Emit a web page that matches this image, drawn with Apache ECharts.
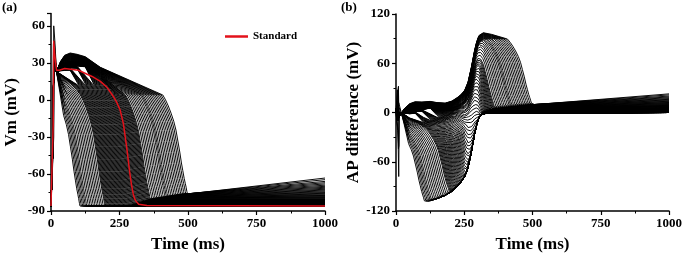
<!DOCTYPE html>
<html>
<head>
<meta charset="utf-8">
<script src="https://cdn.jsdelivr.net/npm/echarts@6/dist/echarts.min.js"></script>
<style>
  html, body { margin: 0; padding: 0; background: #fff; }
  #chart { width: 685px; height: 258px; }
</style>
</head>
<body>
<div id="chart"></div>
<script>
// red "Standard" action potential, panel (a)
const stdT = [0, 5, 8, 10, 14, 20, 30, 50, 100, 150, 180, 205, 227, 240, 252, 264, 276, 282, 288, 294, 300, 305, 310, 320, 350, 1000]
const stdV = [-86, -85, -20, 48, 36, 24, 24, 25.5, 24, 19, 15, 10, 3, -2, -8, -19, -38, -49, -60, -69, -76, -80, -82, -84.5, -85.5, -86]

// black traces: time each one is back at rest (ms), read along the bottom of panel (a)
const endT = [
  106, 111, 116, 121, 126, 131, 137, 143, 149, 155, 161, 167, 173, 179, 185, 191, 197,
  200, 203, 206, 209, 212, 215, 218,
  221, 224, 227, 230, 233, 236, 239, 242, 245, 248, 251, 254, 257, 260, 263, 266, 269, 272, 275, 278,
  281, 284, 287, 290, 293, 296, 299, 302, 305, 308, 311, 314, 317, 320, 323, 326, 329, 332, 335, 338, 341, 344, 347, 350, 353, 356, 359, 362,
  368, 374, 380, 386, 392, 398, 404, 410, 416, 421, 426, 432, 438, 444, 450, 456, 462, 468, 474, 480, 486, 492, 498
]
// dome height near 70 ms (null = no dome)
const domeV = [
  null, null, null, null, null, null, null, null, null, null, null, null, null, null, null, null, null,
  null, null, null, null, null, null, null,
  24, 24.2, 24.4, 24.6, 24.8, 25, 25.2, 25.4, 25.6, 25.8, 26, 26.2, 26.4, 26.6, 26.8, 27, 27.2, 27.4, 27.6, 27.8,
  28, 28.1, 28.2, 28.3, 28.4, 28.5, 28.6, 28.7, 28.8, 28.9, 29, 29.1, 29.2, 29.3, 29.4, 29.5, 29.6, 29.7, 29.8, 29.9, 30, 30.1, 30.2, 30.4, 30.5, 30.7, 30.8, 31,
  31.3, 31.6, 31.9, 32.2, 32.5, 32.8, 33.1, 33.4, 33.7, 34, 34.3, 34.6, 34.9, 35.2, 35.5, 35.8, 36.1, 36.4, 36.7, 37, 37.3, 37.6, 38
]
// plateau level at 180 ms for the long traces (null = already repolarising)
const plateauV = [
  null, null, null, null, null, null, null, null, null, null, null, null, null, null, null, null, null,
  null, null, null, null, null, null, null,
  null, null, null, null, null, null, null, null, null, null, null, null, null, null, null, null, null, null, null, null,
  null, null, null, null, null, null, null, null, null, null, null, null, null, null, null, null, null, 18, 18.3, 18.6, 18.9, 19.2, 19.5, 19.8, 20.1, 20.4, 20.7, 21,
  21.3, 21.5, 21.8, 22, 22.3, 22.5, 22.8, 23, 23.3, 23.5, 23.8, 24, 24.3, 24.5, 24.8, 25, 25.2, 25.4, 25.6, 25.8, 26, 26.2, 26.4
]
// lowest Vm after repolarisation
const bottomV = [
  -86, -86, -86, -86, -86, -86, -86, -86, -86, -86, -86, -86, -86, -86, -86, -86, -86,
  -86, -86, -86, -86, -86, -86, -86,
  -86, -86, -86, -86, -86, -86, -86, -86, -86, -86, -86, -86, -86, -86, -86, -86, -86, -86, -86, -86,
  -85.8, -85.6, -85.4, -85.2, -85, -84.8, -84.6, -84.4, -84.2, -84, -83.8, -83.5, -83.3, -83.1, -82.9, -82.7, -82.5, -82.3, -82.1, -81.9, -81.7, -81.5, -81.2, -81, -80.8, -80.6, -80.3, -80,
  -79.8, -79.6, -79.4, -79.2, -79, -78.8, -78.6, -78.4, -78.2, -78, -77.8, -77.6, -77.4, -77.2, -77, -76.8, -76.6, -76.4, -76.3, -76.2, -76.1, -76, -76
]
// Vm at 1000 ms
const endV = [
  -86, -86, -86, -86, -86, -86, -86, -86, -86, -86, -86, -86, -86, -86, -86, -86, -86,
  -86, -86, -86, -86, -86, -86, -86,
  -86, -86, -86, -86, -86, -86, -86, -86, -86, -86, -86, -86, -86, -86, -86, -86, -86, -86, -86, -86,
  -85.9, -85.7, -85.5, -85.3, -85.1, -84.9, -84.7, -84.5, -84.3, -84.1, -83.9, -83.7, -83.5, -83.3, -83.1, -82.9, -82.7, -82.5, -82.3, -82.1, -81.9, -81.6, -81.4, -81.2, -81, -80.7, -80.4, -80.1,
  -79.6, -79.2, -78.8, -78.4, -77.9, -77.4, -76.9, -76.3, -75.7, -75.1, -74.5, -73.8, -73.1, -72.4, -71.6, -70.8, -70, -69.1, -68.1, -67.1, -66, -64.6, -63.3
]
// upstroke peak and its small time shift (ms)
const upPeak = [
  46, 45, 47, 44, 46, 48, 45, 44, 47, 46, 45, 43, 46, 44, 45, 47, 44,
  45, 46, 44, 47, 45, 43, 46,
  60, 45, 44, 46, 47, 45, 44, 43, 46, 45, 47, 44, 46, 45, 43, 46, 44, 47, 45, 44,
  46, 45, 43, 47, 44, 46, 45, 44, 46, 45, 43, 44, 46, 45, 44, 46, 43, 45, 47, 44, 45, 43, 46, 44, 45, 42, 44, 46,
  43, 45, 44, 42, 45, 43, 44, 42, 45, 44, 46, 43, 45, 47, 44, 45, 43, 46, 44, 45, 42, 44, 43
]
const upDelay = [
  0, 0, 0, 0, 0, 2, 0, 0, 0, 0, 0, 0, 1, 0, 0, 0, 0,
  0, 0, 0, 0, 0, 0, 0,
  0, 0, 0, -1, 0, 0, 0, 0, 0, 0, 0, 0, 0, 0, 0, 0, 1, 0, 0, 0,
  0, 0, 0, 0, 0, 0, 0, 0, 0, 0, 0, 0, 0, -1, 0, 0, 0, 0, 0, 0, 0, 0, 0, 0, 0, 0, 0, 0,
  0, 0, 0, 0, 0, 0, 0, 0, 0, 0, 0, 0, 0, 0, 0, 0, 0, 0, 0, 0, 0, 0, 0
]
// dome profile: time (ms) and share of the dome rise above the 23 mV notch
const domeT = [35, 50, 70, 95, 125]
const domeFrac = [0.55, 0.88, 1, 0.93, 0.8]
// repolarisation shape: ms before rest, Vm
const shapeDt = [-120, -105, -90, -80, -70, -60, -50, -42, -35, -28, -22, -17, -12, -8, -5, -2]
const shapeV = [12, 8.5, 4, -0.5, -6, -12.5, -20, -28, -38, -48, -58, -65, -72, -76.5, -80, -84]

const stdPts = stdT.map((t, i) => [t, stdV[i]])

function buildTrace(i) {
  const T = endT[i], d = upDelay[i], p = upPeak[i]
  const pts = [[0, -86], [4 + d, -85], [8 + d, -30], [10 + d, p], [14 + d, p - 12], [20, 23]]
  if (domeV[i] !== null) {
    domeT.forEach((t, j) => {
      if (t === 70 || t < T - 150) pts.push([t, 23 + domeFrac[j] * (domeV[i] - 23)])
    })
  }
  const long = plateauV[i] !== null
  if (long) pts.push([180, plateauV[i]])
  const k = (bottomV[i] - 4) / -90
  shapeDt.forEach((dt, j) => {
    const t = T + dt
    if (long && shapeV[j] > 4) return
    if (t >= 45 && t > pts[pts.length - 1][0]) pts.push([t, 4 + (shapeV[j] - 4) * k])
  })
  pts.push([T, bottomV[i]], [T + 10, bottomV[i]], [1000, endV[i]])
  return pts
}

// value of a plotted polyline at time t
function at(pts, t) {
  for (let k = 1; k < pts.length; k++) {
    if (t <= pts[k][0]) {
      const [t0, v0] = pts[k - 1], [t1, v1] = pts[k]
      return t1 === t0 ? v1 : v0 + (v1 - v0) * (t - t0) / (t1 - t0)
    }
  }
  return pts[pts.length - 1][1]
}

// panel (b) = trace minus standard
function diffTrace(pts) {
  const times = Array.from(new Set(pts.map(p => p[0]).concat(stdT))).sort((a, b) => a - b)
  return times.map(t => [t, +(at(pts, t) - at(stdPts, t)).toFixed(2)])
}

const serif = "'Liberation Serif', 'Times New Roman', serif"
const traces = endT.map((_, i) => buildTrace(i))

const lineBase = {
  type: 'line', showSymbol: false, symbol: 'none', silent: true,
  lineStyle: { color: '#000', width: 0.95 }
}
const series = []
traces.forEach(pts => series.push({ ...lineBase, xAxisIndex: 0, yAxisIndex: 0, data: pts }))
traces.forEach(pts => series.push({ ...lineBase, xAxisIndex: 1, yAxisIndex: 1, data: diffTrace(pts) }))
series.push({
  ...lineBase, name: 'Standard', xAxisIndex: 0, yAxisIndex: 0, data: stdPts, z: 5,
  lineStyle: { color: '#e3121b', width: 1.5 }, itemStyle: { color: '#e3121b' }
})

const nameStyle = { fontFamily: serif, fontWeight: 'bold', fontSize: 17, color: '#000' }
const labelStyle = { fontFamily: serif, fontWeight: 'bold', fontSize: 13, color: '#000', margin: 6 }

function xAxis(gridIndex) {
  return {
    type: 'value', gridIndex, min: 0, max: 1000, interval: 250,
    name: 'Time (ms)', nameLocation: 'middle', nameGap: 25, nameTextStyle: nameStyle,
    axisLine: { onZero: false, lineStyle: { color: '#000', width: 1.5 } },
    axisTick: { length: 4, lineStyle: { color: '#000', width: 1.2 } },
    minorTick: { show: true, splitNumber: 2, length: 2.5, lineStyle: { color: '#000', width: 1 } },
    axisLabel: { ...labelStyle, formatter: v => String(v) },
    splitLine: { show: false }
  }
}

function yAxis(gridIndex, min, max, interval, name, nameGap) {
  return {
    type: 'value', gridIndex, min, max, interval,
    name, nameLocation: 'middle', nameGap, nameTextStyle: nameStyle,
    axisLine: { show: true, onZero: false, lineStyle: { color: '#000', width: 1.5 } },
    axisTick: { show: true, length: 4, lineStyle: { color: '#000', width: 1.2 } },
    minorTick: { show: true, splitNumber: 2, length: 2.5, lineStyle: { color: '#000', width: 1 } },
    axisLabel: { ...labelStyle, showMaxLabel: max % interval === 0 },
    splitLine: { show: false }
  }
}

const titleStyle = { fontFamily: serif, fontWeight: 'bold', fontSize: 13, color: '#000' }
const chart = echarts.init(document.getElementById('chart'))
chart.setOption({
  animation: false,
  backgroundColor: '#fff',
  title: [
    { text: '(a)', left: 2, top: 1, padding: 0, textStyle: titleStyle },
    { text: '(b)', left: 341, top: 1, padding: 0, textStyle: titleStyle }
  ],
  legend: {
    data: ['Standard'], left: 225, top: 31, padding: 0, icon: 'rect', itemWidth: 23, itemHeight: 2.5, itemGap: 5,
    textStyle: { fontFamily: serif, fontWeight: 'bold', fontSize: 11, color: '#000' }
  },
  grid: [
    { left: 51, top: 13.5, width: 274, height: 200.5 },
    { left: 396, top: 14, width: 274, height: 200 }
  ],
  xAxis: [xAxis(0), xAxis(1)],
  yAxis: [
    yAxis(0, -90, 70, 30, 'Vm (mV)', 31),
    yAxis(1, -120, 120, 60, 'AP difference (mV)', 29)
  ],
  series
})
</script>
</body>
</html>
